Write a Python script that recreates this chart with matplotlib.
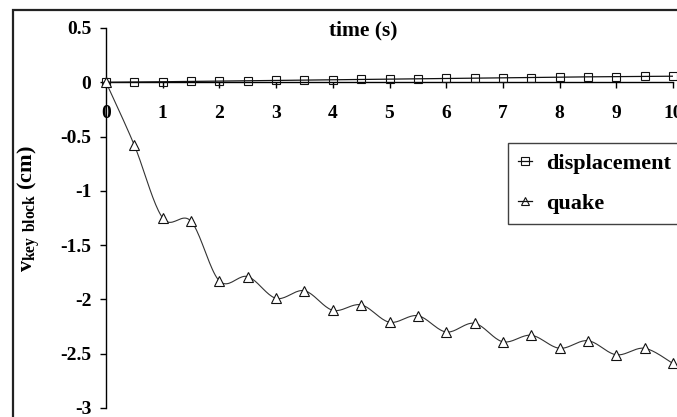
import matplotlib
matplotlib.use("Agg")
import matplotlib.pyplot as plt
from matplotlib.patches import Rectangle
import numpy as np

plt.rcParams["font.family"] = ["Liberation Serif", "DejaVu Serif"]
plt.rcParams["font.weight"] = "bold"
plt.rcParams["axes.unicode_minus"] = False
plt.rcParams["mathtext.fontset"] = "custom"
plt.rcParams["mathtext.rm"] = "Liberation Serif"
plt.rcParams["mathtext.bf"] = "Liberation Serif:bold"

# Time samples (s)
time_s = [0, 0.5, 1, 1.5, 2, 2.5, 3, 3.5, 4, 4.5, 5,
          5.5, 6, 6.5, 7, 7.5, 8, 8.5, 9, 9.5, 10]
# Key-block velocity (cm) for each case
displacement = [0, 0.002, 0.005, 0.008, 0.011, 0.014, 0.017, 0.020, 0.023, 0.026, 0.029,
                0.032, 0.035, 0.038, 0.041, 0.044, 0.047, 0.050, 0.052, 0.054, 0.056]
quake = [0, -0.58, -1.25, -1.28, -1.83, -1.79, -1.99, -1.92, -2.10, -2.05, -2.21,
         -2.15, -2.30, -2.22, -2.39, -2.33, -2.45, -2.38, -2.51, -2.45, -2.59]

x_ticks = [0, 1, 2, 3, 4, 5, 6, 7, 8, 9, 10]
y_ticks = [0.5, 0, -0.5, -1, -1.5, -2, -2.5, -3]
y_tick_labels = ["0.5", "0", "-0.5", "-1", "-1.5", "-2", "-2.5", "-3"]


def smooth(xs, ys, n=20):
    """Cardinal-spline smoothing through the given points (Bezier, tension 1/6)."""
    xs = np.asarray(xs, float)
    ys = np.asarray(ys, float)
    pts = np.column_stack([xs, ys])
    out = [pts[0]]
    m = len(pts)
    tt = np.linspace(0, 1, n + 1)[1:]
    for i in range(m - 1):
        p0 = pts[max(i - 1, 0)]
        p1 = pts[i]
        p2 = pts[i + 1]
        p3 = pts[min(i + 2, m - 1)]
        c1 = p1 + (p2 - p0) / 6.0
        c2 = p2 - (p3 - p1) / 6.0
        for t in tt:
            b = ((1 - t) ** 3) * p1 + 3 * ((1 - t) ** 2) * t * c1 \
                + 3 * (1 - t) * t ** 2 * c2 + t ** 3 * p2
            out.append(b)
    out = np.array(out)
    return out[:, 0], out[:, 1]


W, H = 677, 417
fig = plt.figure(figsize=(W / 100, H / 100), dpi=100)

# outer chart-area frame (runs off the right and bottom edges)
fig.patches.append(Rectangle((13 / W, -0.2), 1.5, 1.2 - 10 / H,
                             transform=fig.transFigure, fill=False,
                             edgecolor="#222222", linewidth=1.6))

ax = fig.add_axes([106 / W, 1 - 408 / H, (673 - 106) / W, (408 - 28) / H])
ax.set_xlim(0, 10)
ax.set_ylim(-3, 0.5)
ax.patch.set_alpha(0)

for s in ("top", "right"):
    ax.spines[s].set_visible(False)
ax.spines["bottom"].set_position(("data", 0))
ax.spines["left"].set_linewidth(1.0)
ax.spines["bottom"].set_linewidth(1.0)

ax.set_xticks(x_ticks)
ax.set_xticklabels([str(v) for v in x_ticks], fontsize=14, fontweight="bold")
ax.set_yticks(y_ticks)
ax.set_yticklabels(y_tick_labels, fontsize=14, fontweight="bold")
ax.tick_params(axis="x", direction="out", length=4.5, width=1.0, pad=11.5)
ax.tick_params(axis="y", direction="out", length=4.5, width=1.0, pad=6)

# displacement series
dx, dy = smooth(time_s, displacement)
ax.plot(dx, dy, color="#111111", lw=0.9, zorder=3)
ax.plot(time_s, displacement, linestyle="none", marker="s", markersize=6,
        markerfacecolor="none", markeredgecolor="#111111", markeredgewidth=0.8,
        zorder=4, clip_on=False)

# quake series
qx, qy = smooth(time_s, quake)
ax.plot(qx, qy, color="#333333", lw=0.8, zorder=3)
ax.plot(time_s, quake, linestyle="none", marker="^", markersize=6.5,
        markerfacecolor="white", markeredgecolor="#111111", markeredgewidth=0.8,
        zorder=4, clip_on=False)

# legend handles
h1, = ax.plot([], [], color="#111111", lw=0.9, marker="s", markersize=5.5,
              markerfacecolor="none", markeredgecolor="#111111", markeredgewidth=0.8)
h2, = ax.plot([], [], color="#111111", lw=0.9, marker="^", markersize=5.5,
              markerfacecolor="none", markeredgecolor="#111111", markeredgewidth=0.8)
leg = fig.legend([h1, h2], ["displacement", "quake"],
                 loc="upper left", bbox_to_anchor=(508 / W, 1 - 143 / H),
                 prop={"family": "Liberation Serif", "weight": "bold", "size": 16},
                 frameon=True, fancybox=False, handlelength=0.65, handletextpad=0.6,
                 borderpad=0.45, labelspacing=0.9, borderaxespad=0)
leg.get_frame().set_edgecolor("#111111")
leg.get_frame().set_linewidth(1.0)

fig.text(363 / W, 1 - 30 / H, "time (s)", ha="center", va="center",
         fontsize=15.5, fontweight="bold")
fig.text(29 / W, 1 - 209 / H, r"$\mathbf{v_{key\ block}}$ (cm)",
         rotation=90, ha="center", va="center", fontsize=16, fontweight="bold")

fig.savefig("out.png", dpi=100)
